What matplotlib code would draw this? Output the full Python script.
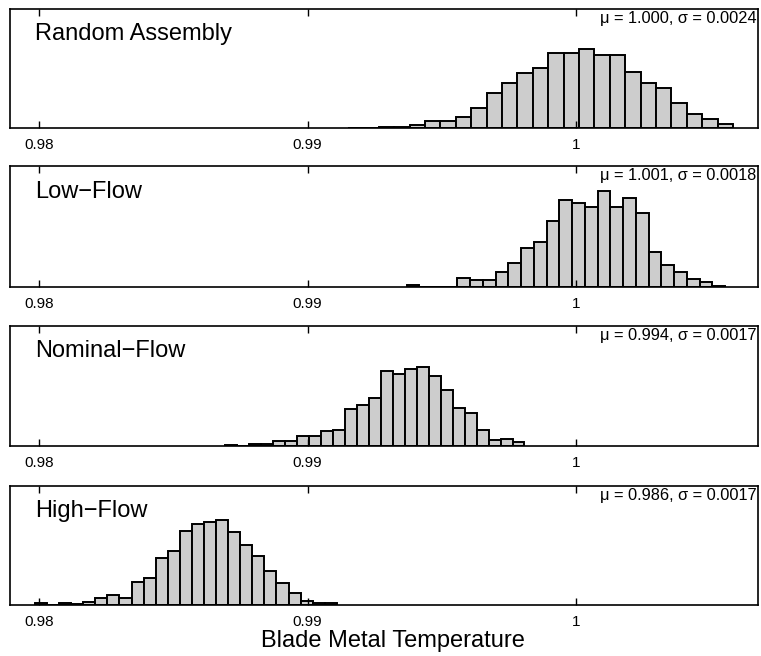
import numpy as np
import matplotlib
matplotlib.use('Agg')
import matplotlib.pyplot as plt

plt.rcParams['font.family'] = ['Liberation Sans', 'DejaVu Sans']

# panel names and stats labels
names = ['Random Assembly', 'Low\u2212Flow', 'Nominal\u2212Flow', 'High\u2212Flow']
stats = ['\u03bc = 1.000, \u03c3 = 0.0024',
         '\u03bc = 1.001, \u03c3 = 0.0018',
         '\u03bc = 0.994, \u03c3 = 0.0017',
         '\u03bc = 0.986, \u03c3 = 0.0017']

# histogram range (first bin left edge, last bin right edge), 25 bins each
ranges = [(0.99151, 1.00587),
          (0.99369, 1.00557),
          (0.98691, 0.99809),
          (0.97983, 0.99109)]

# bin counts (arbitrary units)
rand_counts = [1, 0, 2, 3, 10, 22, 22, 32, 60, 106, 136, 168, 183, 228, 230,
               240, 224, 224, 172, 136, 122, 76, 44, 28, 12]
low_counts = [6, 0, 0, 0, 28, 20, 20, 44, 72, 118, 135, 198, 262, 254, 242,
              290, 240, 268, 224, 106, 66, 44, 24, 16, 2]
nom_counts = [3, 1, 7, 6, 14, 16, 31, 31, 45, 48, 112, 125, 145, 228, 217,
              234, 240, 211, 170, 115, 100, 48, 18, 22, 11]
high_counts = [5, 1, 5, 3, 9, 21, 31, 23, 71, 83, 143, 165, 225, 247, 253,
               261, 223, 185, 151, 105, 67, 37, 13, 7, 5]
all_counts = [rand_counts, low_counts, nom_counts, high_counts]

xticks = [0.98, 0.99, 1.0]
xticklabels = ['0.98', '0.99', '1']

fig = plt.figure(figsize=(7.61, 6.56), dpi=100)

# axes boxes in figure fractions (left, bottom, width, height)
boxes = [(0.0131, 0.805, 0.983, 0.181),
         (0.0131, 0.5625, 0.983, 0.184),
         (0.0131, 0.320, 0.983, 0.183),
         (0.0131, 0.0777, 0.983, 0.181)]

for box, name, stat, (lo, hi), counts in zip(boxes, names, stats, ranges, all_counts):
    ax = fig.add_axes(box)
    edges = np.linspace(lo, hi, len(counts) + 1)
    ax.bar(edges[:-1], counts, width=np.diff(edges), align='edge',
           color='#cdcdcd', edgecolor='black', linewidth=1.4)
    ax.set_xlim(0.9789, 1.0068)
    ax.set_ylim(0, 363)
    ax.set_yticks([])
    ax.set_xticks(xticks)
    ax.set_xticklabels(xticklabels)
    ax.tick_params(axis='x', direction='in', top=True, length=5, width=1,
                   labelsize=11, pad=7)
    for s in ax.spines.values():
        s.set_linewidth(1.2)
    ax.text(0.033, 0.74, name, transform=ax.transAxes, fontsize=17,
            va='baseline', ha='left')
    ax.text(0.998, 0.985, stat, transform=ax.transAxes, fontsize=11.8,
            va='top', ha='right')

fig.text(0.516, 0.0137, 'Blade Metal Temperature', fontsize=17,
         ha='center', va='baseline')

fig.savefig('out.png', dpi=100)
